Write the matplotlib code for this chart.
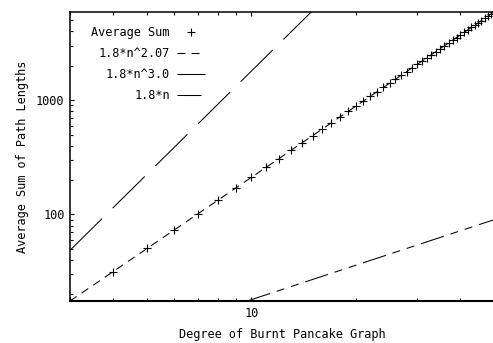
import numpy as np
import matplotlib
matplotlib.use("Agg")
import matplotlib.pyplot as plt
from matplotlib.ticker import FixedLocator, FixedFormatter, NullFormatter

# data
degree = list(range(3, 51))
avg_sum = [17.5, 31.7, 50.4, 73.5, 101, 133, 170, 211, 258, 308,
           364, 424, 490, 560, 634, 714, 798, 888, 982, 1082,
           1186, 1295, 1409, 1528, 1653, 1782, 1916, 2055, 2200, 2349,
           2503, 2663, 2828, 2997, 3172, 3352, 3537, 3727, 3923, 4123,
           4329, 4540, 4756, 4977, 5204, 5435, 5672, 5914]
x_range = (3, 50)
y_range = (17.5, 5914)
x_major = [10]
x_labels = ["10"]
y_major = [100, 1000]
y_labels = ["100", "1000"]

plt.rcParams['font.family'] = ['DejaVu Sans Mono']
plt.rcParams['font.size'] = 8.6
plt.rcParams['lines.scale_dashes'] = False

fig = plt.figure(figsize=(4.93, 3.43), dpi=100)
ax = fig.add_axes([70 / 493, 42 / 343, 424 / 493, 289 / 343])
ax.set_xscale('log')
ax.set_yscale('log')

# fitted curves from the legend
n = np.geomspace(x_range[0], x_range[1], 500)
n_lin = np.geomspace(y_range[0] / 1.8, x_range[1], 300)

ax.plot(degree, avg_sum, ls='none', marker='+', ms=5.5, mew=0.8,
        color='k', label='Average Sum')
ax.plot(n, 1.8 * n ** 2.07, color='k', lw=0.75,
        ls=(0, (5.8, 4.3)), label='1.8*n^2.07')
ax.plot(n, 1.8 * n ** 3.0, color='k', lw=0.75,
        ls=(0, (32.4, 10.8)), label='1.8*n^3.0')
ax.plot(n_lin, 1.8 * n_lin, color='k', lw=0.75,
        ls=(0, (17.3, 5.0, 5.8, 5.0, 5.8, 5.0)), label='1.8*n')

ax.set_xlim(*x_range)
ax.set_ylim(*y_range)

ax.xaxis.set_major_locator(FixedLocator(x_major))
ax.xaxis.set_major_formatter(FixedFormatter(x_labels))
ax.xaxis.set_minor_locator(FixedLocator([3, 4, 5, 6, 7, 8, 9, 20, 30, 40, 50]))
ax.xaxis.set_minor_formatter(NullFormatter())
ax.yaxis.set_major_locator(FixedLocator(y_major))
ax.yaxis.set_major_formatter(FixedFormatter(y_labels))
ax.yaxis.set_minor_locator(FixedLocator(
    [20, 30, 40, 50, 60, 70, 80, 90, 200, 300, 400, 500, 600, 700, 800, 900,
     2000, 3000, 4000, 5000]))
ax.yaxis.set_minor_formatter(NullFormatter())

ax.tick_params(which='both', direction='in', top=True, right=False,
               width=0.8, colors='k', pad=4)
ax.tick_params(which='major', length=3.2)
ax.tick_params(which='minor', length=2.2)

for side in ['left', 'top']:
    ax.spines[side].set_linewidth(1.1)
ax.spines['bottom'].set_linewidth(1.5)
ax.spines['right'].set_visible(False)

ax.set_xlabel('Degree of Burnt Pancake Graph')
ax.set_ylabel('Average Sum of Path Lengths')
ax.xaxis.set_label_coords(0.5, -0.095)
ax.yaxis.set_label_coords(-0.097, 0.5)

leg = ax.legend(loc='upper right', bbox_to_anchor=(205 / 493, 317 / 343),
                bbox_transform=fig.transFigure, frameon=False,
                markerfirst=False, handlelength=2.35, handletextpad=0.6,
                labelspacing=0.68, borderpad=0, borderaxespad=0)

fig.savefig('out.png', dpi=100)
